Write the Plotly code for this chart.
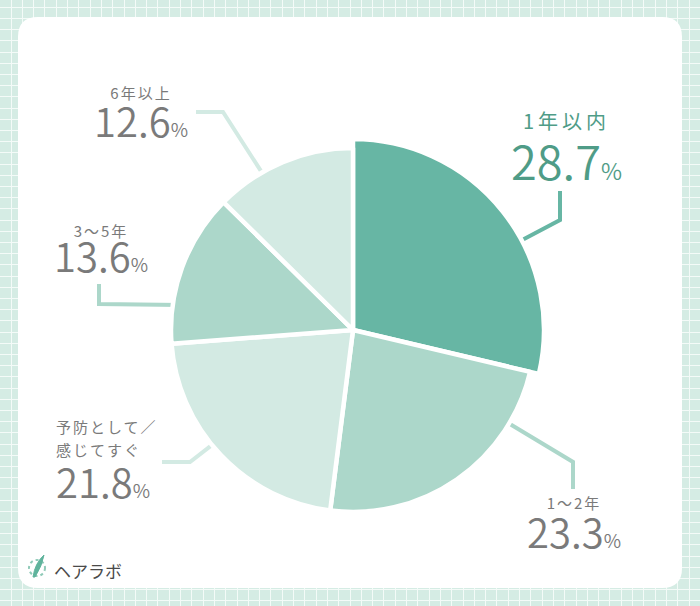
import math
import plotly.graph_objects as go

# ---------------- data ----------------
categories = ["1年以内", "1〜2年", "予防として／感じてすぐ", "3〜5年", "6年以上"]
values = [28.7, 23.3, 21.8, 13.6, 12.6]
name_lines = [["1年以内"], ["1〜2年"], ["予防として／", "感じてすぐ"], ["3〜5年"], ["6年以上"]]
brand = "ヘアラボ"

# ---------------- styles / layout ----------------
W, H = 700, 606
CX, CY = 353, 330          # pie centre (px)
R_BIG, R_SMALL = 191, 182  # highlighted slice is drawn larger
DARK, MID, LIGHT = "#67b6a4", "#acd7ca", "#d3eae3"
slice_colors = [DARK, MID, LIGHT, MID, LIGHT]
TEAL_TXT, GRAY_TXT = "#4f9c87", "#7a7a7a"
BG, GRID = "#d5ece4", "#f4fbf8"
FONT = "Noto Sans CJK JP"
GAP = 4.5
DESC = 0.288  # font descent (em)
NUM_WEIGHT = 350

# label layout per slice: leader start fraction, elbow, end; text x, baselines
label_layout = [
    dict(f=0.60, elbow=(560, 220), end=(560, 191), x=566, name_b=131, val_b=181.5, anchor="center", hi=True),
    dict(f=0.21, elbow=(573, 462), end=(573, 489), x=574, name_b=510, val_b=549, anchor="center", hi=False),
    dict(f=0.555, elbow=(190, 462), end=(162, 462), x=55, name_b=433.5, val_b=500, anchor="left", hi=False),
    dict(f=0.257, elbow=(99, 304), end=(99, 284), x=101, name_b=238.5, val_b=274, anchor="center", hi=False),
    dict(f=0.34, elbow=(223, 112), end=(196, 112), x=141, name_b=100.5, val_b=138.5, anchor="center", hi=False),
]


def domain(r):
    return dict(x=[(CX - r) / W, (CX + r) / W],
                y=[(H - CY - r) / H, (H - CY + r) / H])


fig = go.Figure()

n = len(values)
big_colors = [slice_colors[0]] + ["rgba(0,0,0,0)"] * (n - 1)
small_colors = ["rgba(0,0,0,0)"] + slice_colors[1:]

fig.add_trace(go.Pie(
    labels=categories, values=values, sort=False, direction="clockwise", rotation=0,
    domain=domain(R_BIG), textinfo="none", hoverinfo="skip", showlegend=False,
    marker=dict(colors=big_colors, line=dict(color="white", width=[GAP] + [0] * (n - 1))),
))
fig.add_trace(go.Pie(
    labels=categories, values=values, sort=False, direction="clockwise", rotation=0,
    domain=domain(R_SMALL), textinfo="none", hoverinfo="skip", showlegend=False,
    marker=dict(colors=small_colors, line=dict(color="white", width=[0] + [GAP] * (n - 1))),
))

shapes = []
# white card
x0, y0, x1, y1, rr = 18, 17, 682, 588, 20
card = (f"M{x0+rr},{y0} L{x1-rr},{y0} Q{x1},{y0} {x1},{y0+rr} L{x1},{y1-rr} Q{x1},{y1} {x1-rr},{y1} "
        f"L{x0+rr},{y1} Q{x0},{y1} {x0},{y1-rr} L{x0},{y0+rr} Q{x0},{y0} {x0+rr},{y0} Z")
shapes.append(dict(type="path", path=card, xref="x", yref="y", fillcolor="white",
                   line=dict(width=0), layer="between"))

total = sum(values)
cum = 0.0
annotations = []
for i, v in enumerate(values):
    a0 = cum / total * 360
    span = v / total * 360
    cum += v
    L = label_layout[i]
    # leader line, starting inside the slice (angle derived from the data)
    ang = math.radians(a0 + L["f"] * span)
    r_in = (R_BIG if i == 0 else R_SMALL) - 8
    ax, ay = CX + r_in * math.sin(ang), CY - r_in * math.cos(ang)
    ex, ey = L["elbow"]
    ox, oy = L["end"]
    shapes.append(dict(type="path", path=f"M{ax:.1f},{ay:.1f} L{ex},{ey} L{ox},{oy}",
                       xref="x", yref="y", line=dict(color=slice_colors[i], width=4),
                       layer="between"))

    col = TEAL_TXT if L["hi"] else GRAY_TXT
    nsize = 20 if L["hi"] else 15
    vsize = 47 if L["hi"] else 40
    psize = 23 if L["hi"] else 19
    ls = "4px" if L["hi"] else "2px"
    names = name_lines[i]
    val_txt = f"<span style='font-size:{vsize}px'>{v:.1f}</span><span style='font-size:{psize}px'>%</span>"
    name_spans = [f"<span style='font-size:{nsize}px;letter-spacing:{ls};font-weight:400'>{s}</span>"
                  for s in names]
    if len(names) == 1:
        gap = L["val_b"] - L["name_b"]
        annotations.append(dict(
            x=L["x"], y=L["val_b"] + DESC * vsize, xref="x", yref="y", showarrow=False,
            text=name_spans[0] + "<br>" + val_txt, xanchor=L["anchor"], yanchor="bottom",
            align=L["anchor"], borderpad=0,
            font=dict(family=FONT, size=gap / 1.3, color=col, weight=NUM_WEIGHT)))
    else:
        # first name line alone, second name line + value together
        annotations.append(dict(
            x=L["x"], y=L["name_b"] + DESC * nsize, xref="x", yref="y", showarrow=False,
            text=name_spans[0], xanchor=L["anchor"], yanchor="bottom", align=L["anchor"],
            borderpad=0, font=dict(family=FONT, size=nsize, color=col)))
        gap = L["val_b"] - (L["name_b"] + 24)
        annotations.append(dict(
            x=L["x"], y=L["val_b"] + DESC * vsize, xref="x", yref="y", showarrow=False,
            text=name_spans[1] + "<br>" + val_txt, xanchor=L["anchor"], yanchor="bottom",
            align=L["anchor"], borderpad=0,
            font=dict(family=FONT, size=gap / 1.3, color=col, weight=NUM_WEIGHT)))

# logo: dotted circle + leaf + text
shapes.append(dict(type="circle", xref="x", yref="y", x0=29, y0=560, x1=45, y1=576,
                   line=dict(color="#8fcab8", width=2, dash="dot")))
shapes.append(dict(type="path", xref="x", yref="y",
                   path="M33,577 Q35,563 44,555 Q42,566 35,577 Z",
                   fillcolor="#5fb39c", line=dict(color="#5fb39c", width=1)))
annotations.append(dict(x=52, y=570, xref="x", yref="y", showarrow=False, text=brand,
                        xanchor="left", yanchor="middle",
                        font=dict(family=FONT, size=17, color="#4a4a4a")))

fig.update_layout(
    width=W, height=H, margin=dict(l=0, r=0, t=0, b=0),
    paper_bgcolor=BG, plot_bgcolor=BG,
    xaxis=dict(range=[0, W], showticklabels=False, showgrid=True, gridcolor=GRID, gridwidth=1,
               tick0=11, dtick=11.3, zeroline=False, fixedrange=True, ticks=""),
    yaxis=dict(range=[H, 0], showticklabels=False, showgrid=True, gridcolor=GRID, gridwidth=1,
               tick0=7.3, dtick=11.2, zeroline=False, fixedrange=True, ticks=""),
    shapes=shapes, annotations=annotations, showlegend=False,
)

fig.write_html("out.html", config={"displayModeBar": False},
               post_script="document.body.style.margin='0';document.body.style.padding='0';")
